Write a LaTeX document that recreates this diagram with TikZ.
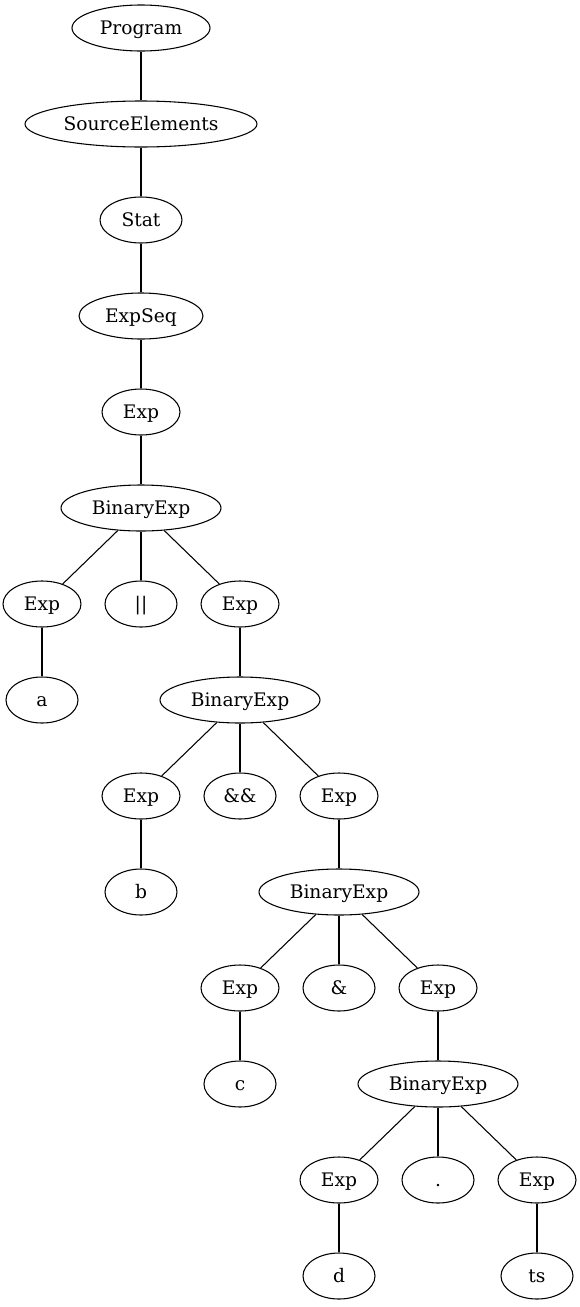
\documentclass[tikz,border=0pt]{standalone}
\usepackage{fontspec}
\setmainfont{DejaVu Serif}
\usetikzlibrary{shapes.geometric}

\begin{document}
\begin{tikzpicture}[x=74.25pt,y=-72pt,
    tnode/.style={ellipse,draw,line width=0.8pt,inner sep=0pt,
                  minimum width=54pt,minimum height=34.5pt,
                  text height=12.4pt,text depth=3pt,
                  font=\fontsize{14pt}{16pt}\selectfont},
    edge/.style={line width=0.8pt}]

\def\wProg{103.5pt}
\def\wSrc{174pt}
\def\wStat{61.5pt}
\def\wSeq{93pt}
\def\wExp{58.5pt}
\def\wBin{120pt}

\useasboundingbox (-31.5pt,21pt) rectangle (403.5pt,-959.25pt);

% top chain
\node [tnode,minimum width=\wProg] (prog)   at (1,0) {Program};
\node [tnode,minimum width=\wSrc]  (srcel)  at (1,1) {SourceElements};
\node [tnode,minimum width=\wStat] (stat)   at (1,2) {Stat};
\node [tnode,minimum width=\wSeq]  (expseq) at (1,3) {ExpSeq};
\node [tnode,minimum width=\wExp]  (exp0)   at (1,4) {Exp};
\node [tnode,minimum width=\wBin]  (bin0)   at (1,5) {BinaryExp};

% a || ...
\node [tnode,minimum width=\wExp]  (expa)   at (0,6) {Exp};
\node [tnode]                      (opor)   at (1,6) {||};
\node [tnode,minimum width=\wExp]  (exp1)   at (2,6) {Exp};
\node [tnode]                      (a)      at (0,7) {a};
\node [tnode,minimum width=\wBin]  (bin1)   at (2,7) {BinaryExp};

% b && ...
\node [tnode,minimum width=\wExp]  (expb)   at (1,8) {Exp};
\node [tnode]                      (opand)  at (2,8) {\&\&};
\node [tnode,minimum width=\wExp]  (exp2)   at (3,8) {Exp};
\node [tnode]                      (b)      at (1,9) {b};
\node [tnode,minimum width=\wBin]  (bin2)   at (3,9) {BinaryExp};

% c & ...
\node [tnode,minimum width=\wExp]  (expc)   at (2,10) {Exp};
\node [tnode]                      (opbit)  at (3,10) {\&};
\node [tnode,minimum width=\wExp]  (exp3)   at (4,10) {Exp};
\node [tnode]                      (c)      at (2,11) {c};
\node [tnode,minimum width=\wBin]  (bin3)   at (4,11) {BinaryExp};

% d . ts
\node [tnode,minimum width=\wExp]  (expd)   at (3,12) {Exp};
\node [tnode]                      (opdot)  at (4,12) {.};
\node [tnode,minimum width=\wExp]  (expts)  at (5,12) {Exp};
\node [tnode]                      (d)      at (3,13) {d};
\node [tnode]                      (ts)     at (5,13) {ts};

% edges
\draw [edge] (prog) -- (srcel);
\draw [edge] (srcel) -- (stat);
\draw [edge] (stat) -- (expseq);
\draw [edge] (expseq) -- (exp0);
\draw [edge] (exp0) -- (bin0);
\draw [edge] (bin0) -- (expa);
\draw [edge] (bin0) -- (opor);
\draw [edge] (bin0) -- (exp1);
\draw [edge] (expa) -- (a);
\draw [edge] (exp1) -- (bin1);
\draw [edge] (bin1) -- (expb);
\draw [edge] (bin1) -- (opand);
\draw [edge] (bin1) -- (exp2);
\draw [edge] (expb) -- (b);
\draw [edge] (exp2) -- (bin2);
\draw [edge] (bin2) -- (expc);
\draw [edge] (bin2) -- (opbit);
\draw [edge] (bin2) -- (exp3);
\draw [edge] (expc) -- (c);
\draw [edge] (exp3) -- (bin3);
\draw [edge] (bin3) -- (expd);
\draw [edge] (bin3) -- (opdot);
\draw [edge] (bin3) -- (expts);
\draw [edge] (expd) -- (d);
\draw [edge] (expts) -- (ts);

\end{tikzpicture}
\end{document}
